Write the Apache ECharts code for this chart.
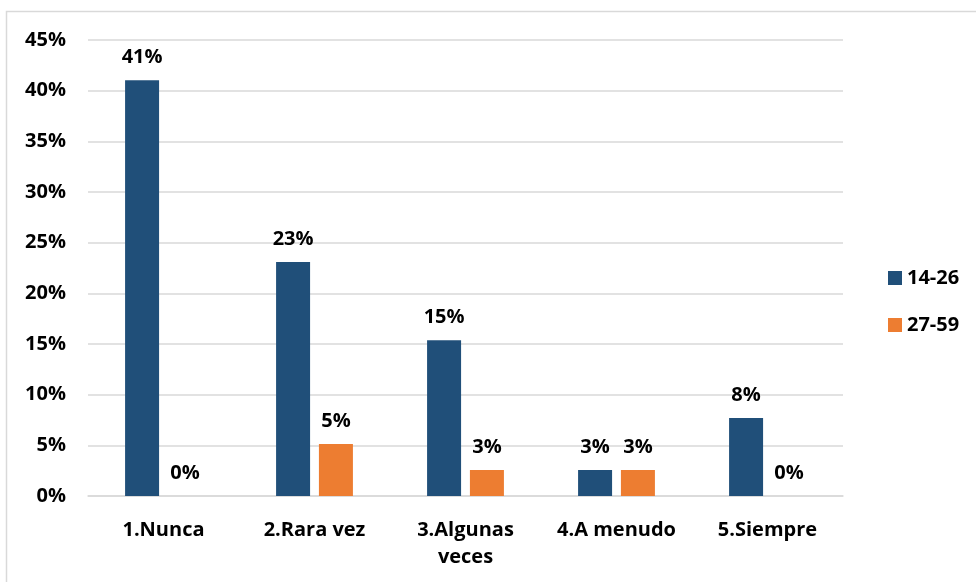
<!DOCTYPE html>
<html>
	<head>
		<meta charset="utf-8" />
		<title></title>
		<script src="https://cdn.jsdelivr.net/npm/echarts@6/dist/echarts.min.js" type="text/javascript" charset="utf-8"></script>
	</head>
	<body style="margin: 0;background: #fff;">
		<div id="chart" style="width: 976px;height: 582px;"></div>
		<script type="text/javascript">
			var categories = ["1.Nunca", "2.Rara vez", "3.Algunas veces", "4.A menudo", "5.Siempre"];
			var seriesNames = ["14-26", "27-59"];
			var young = [41.03, 23.08, 15.38, 2.56, 7.69];
			var older = [0, 5.13, 2.56, 2.56, 0];
			var yTicks = [0, 5, 10, 15, 20, 25, 30, 35, 40, 45];

			var font = "'Open Sans', Lato, sans-serif";
			var fs = 20;
			var labelStyle = {
				show: true,
				position: 'top',
				distance: 13,
				color: '#000',
				fontFamily: font,
				fontWeight: 'bold',
				fontSize: fs,
				formatter: function(p){
					return Math.round(p.value) + '%';
				}
			};

			var chart = echarts.init(document.getElementById("chart"));
			chart.setOption({
				animation: false,
				graphic: [{
					type: 'rect',
					silent: true,
					shape: {x: 6.5, y: 11.5, width: 1200, height: 1200},
					style: {fill: 'none', stroke: '#d9d9d9', lineWidth: 1.5}
				}],
				grid: {left: 88, right: 133, top: 40, bottom: 86},
				legend: {
					orient: 'vertical',
					left: 883,
					top: 263,
					itemWidth: 14,
					itemHeight: 14,
					itemGap: 27,
					icon: 'rect',
					data: seriesNames,
					textStyle: {color: '#000', fontFamily: font, fontWeight: 'bold', fontSize: fs}
				},
				xAxis: {
					type: 'category',
					data: categories,
					axisLine: {lineStyle: {color: '#d9d9d9', width: 1.5}},
					axisTick: {show: false},
					axisLabel: {
						interval: 0,
						hideOverlap: false,
						margin: 21,
						color: '#000',
						fontFamily: font,
						fontWeight: 'bold',
						fontSize: fs,
						lineHeight: 27,
						formatter: function(v){
							return v.replace('Algunas ', 'Algunas\n');
						}
					}
				},
				yAxis: {
					type: 'value',
					min: yTicks[0],
					max: yTicks[yTicks.length - 1],
					interval: 5,
					axisLine: {show: false},
					axisTick: {show: false},
					splitLine: {lineStyle: {color: '#d9d9d9', width: 1.5}},
					axisLabel: {
						margin: 22,
						color: '#000',
						fontFamily: font,
						fontWeight: 'bold',
						fontSize: fs,
						formatter: '{value}%'
					}
				},
				series: [
					{
						name: seriesNames[0],
						type: 'bar',
						data: young,
						barWidth: 34,
						barGap: '26%',
						itemStyle: {color: '#204f79'},
						label: labelStyle
					},
					{
						name: seriesNames[1],
						type: 'bar',
						data: older,
						barWidth: 34,
						itemStyle: {color: '#ed7d31'},
						label: labelStyle
					}
				]
			});
		</script>
	</body>
</html>
